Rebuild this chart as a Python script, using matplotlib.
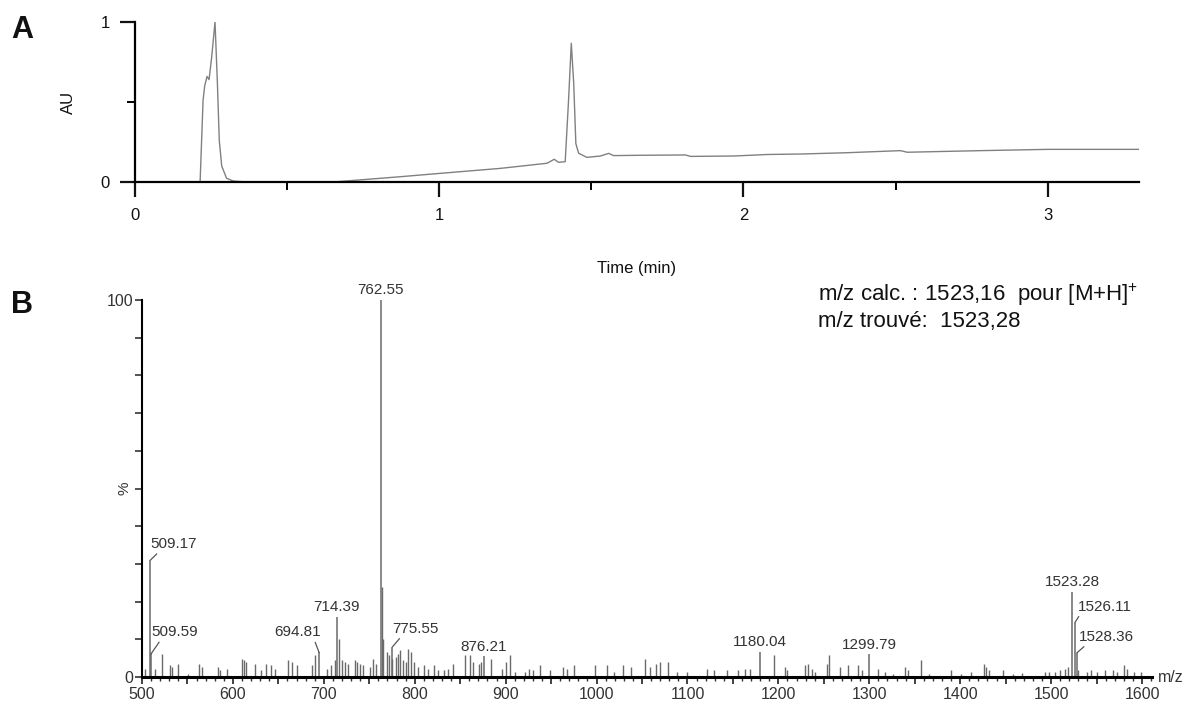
import matplotlib
matplotlib.use("Agg")
import matplotlib.pyplot as plt
from matplotlib.ticker import FixedLocator, FuncFormatter

plt.rcParams['font.family'] = ['Liberation Sans', 'DejaVu Sans']

# ---------------- Panel A : chromatogram ----------------
time_min = [0.0, 0.214, 0.2237, 0.229, 0.2368, 0.2434, 0.252, 0.263, 0.2708, 0.277,
            0.285, 0.301, 0.3235, 0.367, 0.652, 0.872, 1.003, 1.20, 1.354, 1.378,
            1.392, 1.414, 1.425, 1.434, 1.442, 1.449, 1.458, 1.485, 1.530, 1.557,
            1.573, 1.661, 1.809, 1.826, 1.969, 2.08, 2.19, 2.34, 2.516, 2.538,
            2.779, 3.0, 3.30]
absorbance = [0.0, 0.0, 0.51, 0.60, 0.66, 0.64, 0.78, 1.0, 0.62, 0.26,
              0.10, 0.023, 0.006, 0.0, 0.0, 0.033, 0.054, 0.085, 0.117, 0.142,
              0.123, 0.127, 0.51, 0.867, 0.617, 0.24, 0.18, 0.154, 0.1625, 0.179,
              0.165, 0.167, 0.169, 0.160, 0.1625, 0.172, 0.175, 0.183, 0.196, 0.186,
              0.196, 0.204, 0.204]
a_xticks = [0, 1, 2, 3]
a_xminor = [0.5, 1.5, 2.5]
a_yticks = [0, 1]
a_yminor = [0.5]

# ---------------- Panel B : mass spectrum ----------------
peak_mz = [509.17, 509.59, 694.81, 714.39, 762.55, 775.55, 876.21, 1180.04,
           1299.79, 1523.28, 1526.11, 1528.36]
peak_int = [31.0, 6.0, 6.5, 16.0, 100.0, 8.0, 5.5, 6.6, 6.1, 22.5, 14.4, 6.4]
peak_labels = ["509.17", "509.59", "694.81", "714.39", "762.55", "775.55", "876.21",
               "1180.04", "1299.79", "1523.28", "1526.11", "1528.36"]

noise_mz = [503, 514, 522, 531, 533, 540, 550.5, 563, 565.5, 583.5, 586, 594,
            610, 612, 614.5, 624, 631, 636.7, 642, 646, 661, 665, 670,
            686.5, 690, 704, 708, 712, 717, 720, 723, 726.5, 734, 737, 740, 743.5,
            751, 754, 757, 763.6, 764.6, 770, 772, 775, 779, 782, 784, 787, 790,
            793, 796, 799, 804, 810, 815, 821, 826, 832, 836.5, 842, 855.7, 861,
            864.5, 871, 873, 883.5, 896, 900, 904.6, 910, 921, 926, 930, 937.7,
            948.6, 962.6, 967, 975, 998, 1011, 1019, 1029, 1038,
            1053.5, 1059, 1065, 1070, 1079, 1089, 1099, 1121, 1129, 1143, 1156,
            1163.6, 1169, 1195.6, 1207, 1210, 1229,
            1233, 1237, 1240, 1253, 1255.5, 1268, 1277, 1288, 1292, 1310, 1317,
            1326, 1339, 1343, 1357, 1366, 1390, 1401, 1412,
            1426, 1428, 1432, 1447, 1458, 1468, 1493, 1498, 1504, 1510, 1515,
            1519, 1530, 1539, 1544, 1551, 1559, 1568, 1573, 1580, 1584, 1591, 1599]
noise_int = [2.2, 2.0, 6.2, 3.1, 2.7, 3.5, 0.9, 3.5, 2.7, 2.7, 1.8, 2.0,
             4.9, 4.4, 4.0, 3.5, 1.8, 3.5, 3.1, 2.2, 4.4, 4.0, 3.1,
             3.1, 5.8, 2.2, 3.1, 4.4, 10.2, 4.4, 4.0, 3.5, 4.4, 4.0, 3.5, 3.1,
             2.7, 4.9, 3.5, 24.0, 10.0, 6.6, 5.8, 4.9, 5.3, 6.2, 7.1, 4.4, 4.0,
             7.5, 6.6, 4.0, 2.7, 3.1, 2.2, 3.1, 1.8, 1.8, 2.2, 3.5, 5.8, 5.8,
             4.0, 3.5, 4.0, 4.9, 2.2, 4.0, 5.8, 1.3, 1.3, 2.2, 1.8, 3.1,
             1.8, 2.7, 2.2, 3.1, 3.1, 3.1, 1.3, 3.1, 2.7,
             4.9, 2.7, 3.5, 4.0, 4.0, 1.3, 1.3, 2.2, 1.8, 1.8, 1.8,
             2.2, 2.2, 5.8, 2.7, 1.8, 3.1,
             3.5, 2.2, 1.3, 3.5, 5.8, 2.7, 3.1, 3.1, 1.8, 2.2, 1.3,
             0.9, 2.7, 1.8, 4.4, 0.9, 1.8, 0.9, 1.3,
             3.5, 2.7, 1.8, 1.8, 0.9, 1.1, 1.3, 1.3, 1.3, 1.8, 2.2,
             2.7, 1.8, 1.3, 1.8, 1.3, 1.8, 1.8, 1.3, 3.1, 2.2, 1.3, 1.3]

b_xlabels = [500, 600, 700, 800, 900, 1000, 1100, 1200, 1300, 1400, 1500, 1600]

calc_text = "m/z calc. : 1523,16  pour [M+H]$^{\\mathregular{+}}$"
found_text = "m/z trouvé:  1523,28"

# label offsets in pixels (dx, dy), horizontal alignment, leader anchor, leader?
label_style = {
    "509.17": ((0, 9), 'left', (0.2, 0.0), True),
    "509.59": ((1, 15), 'left', (0.2, 0.0), True),
    "694.81": ((2, 13), 'right', (0.85, 0.0), True),
    "714.39": ((0, 3), 'center', (0.5, 0.0), False),
    "762.55": ((0, 3), 'center', (0.5, 0.0), False),
    "775.55": ((0, 11), 'left', (0.2, 0.0), True),
    "876.21": ((0, 2), 'center', (0.5, 0.0), False),
    "1180.04": ((0, 3), 'center', (0.5, 0.0), False),
    "1299.79": ((0, 2), 'center', (0.5, 0.0), False),
    "1523.28": ((0, 3), 'center', (0.5, 0.0), False),
    "1526.11": ((3, 9), 'left', (0.05, 0.0), True),
    "1528.36": ((2, 9), 'left', (0.15, 0.0), True),
}

W, H = 1186, 704
fig = plt.figure(figsize=(W / 100, H / 100), dpi=100)

# ---------- Panel A ----------
axA = fig.add_axes([135 / W, 1 - 182 / H, (1139 - 135) / W, (182 - 22) / H])
axA.plot(time_min, absorbance, color='#808080', lw=1.0)
axA.set_xlim(0, 3.30)
axA.set_ylim(0, 1)
for s in ['top', 'right']:
    axA.spines[s].set_visible(False)
for s in ['left', 'bottom']:
    axA.spines[s].set_linewidth(1.6)
axA.spines['left'].set_bounds(0, 1)
axA.xaxis.set_major_locator(FixedLocator(a_xticks))
axA.xaxis.set_minor_locator(FixedLocator(a_xminor))
axA.yaxis.set_major_locator(FixedLocator(a_yticks))
axA.yaxis.set_minor_locator(FixedLocator(a_yminor))
axA.tick_params(which='major', length=11, width=1.6, labelsize=12, colors='#111111', pad=8)
axA.tick_params(which='minor', length=5.5, width=1.4)
axA.tick_params(axis='y', which='major', pad=7)
axA.annotate('AU', xy=(0, 0.5), xycoords='axes fraction', xytext=(-67, 0),
             textcoords='offset pixels', rotation=90, ha='center', va='center',
             fontsize=12, color='#111111')
axA.annotate('Time (min)', xy=(0.5, 0), xycoords='axes fraction', xytext=(0, -86),
             textcoords='offset pixels', ha='center', va='center', fontsize=12,
             color='#111111')

# ---------- Panel B ----------
axB = fig.add_axes([142 / W, 1 - 677 / H, (1152 - 142) / W, (677 - 300) / H])
axB.vlines(noise_mz, 0, noise_int, colors='#6a6a6a', lw=1.0)
axB.vlines(peak_mz, 0, peak_int, colors='#6a6a6a', lw=1.1)
axB.set_xlim(500, 1611)
axB.set_ylim(0, 100)
for s in ['top', 'right']:
    axB.spines[s].set_visible(False)
axB.spines['left'].set_linewidth(1.5)
axB.spines['bottom'].set_linewidth(2.2)

axB.xaxis.set_major_locator(FixedLocator(list(range(500, 1601, 50))))
axB.xaxis.set_minor_locator(FixedLocator(list(range(500, 1611, 10))))
axB.xaxis.set_major_formatter(FuncFormatter(lambda v, p: f"{int(v)}" if int(v) in b_xlabels else ""))
axB.yaxis.set_major_locator(FixedLocator(list(range(0, 101, 10))))
axB.yaxis.set_major_formatter(FuncFormatter(lambda v, p: f"{int(v)}" if v in (0, 100) else ""))
axB.tick_params(axis='x', which='major', length=5, width=1.3, labelsize=11.5,
                colors='#333333', pad=2)
axB.tick_params(axis='x', which='minor', length=3, width=1.0, colors='#333333')
axB.tick_params(axis='y', which='major', length=5, width=1.2, labelsize=11.5,
                colors='#333333', pad=1)
axB.text(-0.017, 0.5, '%', transform=axB.transAxes, rotation=90, ha='center',
         va='center', fontsize=11, color='#333333')
axB.annotate('m/z', xy=(1, 0), xycoords='axes fraction', xytext=(6, 0),
             textcoords='offset pixels', ha='left', va='center', fontsize=11.5,
             color='#333333')

for mz, inten, lab in zip(peak_mz, peak_int, peak_labels):
    (dx, dy), ha, relpos, leader = label_style[lab]
    arrow = dict(arrowstyle='-', color='#555555', lw=0.9, relpos=relpos,
                 shrinkA=0, shrinkB=0) if leader else None
    axB.annotate(lab, xy=(mz, inten), xytext=(dx, dy), textcoords='offset pixels',
                 ha=ha, va='bottom', fontsize=11, color='#333333',
                 arrowprops=arrow, annotation_clip=False)

fig.text(818 / W, 1 - 295 / H, calc_text, ha='left', va='center', fontsize=16,
         color='#111111')
fig.text(818 / W, 1 - 322 / H, found_text, ha='left', va='center', fontsize=16,
         color='#111111')

fig.text(22 / W, 1 - 30 / H, 'A', ha='center', va='center', fontsize=22,
         fontweight='bold', color='#111111')
fig.text(22 / W, 1 - 305 / H, 'B', ha='center', va='center', fontsize=22,
         fontweight='bold', color='#111111')

fig.savefig('out.png', dpi=100)
